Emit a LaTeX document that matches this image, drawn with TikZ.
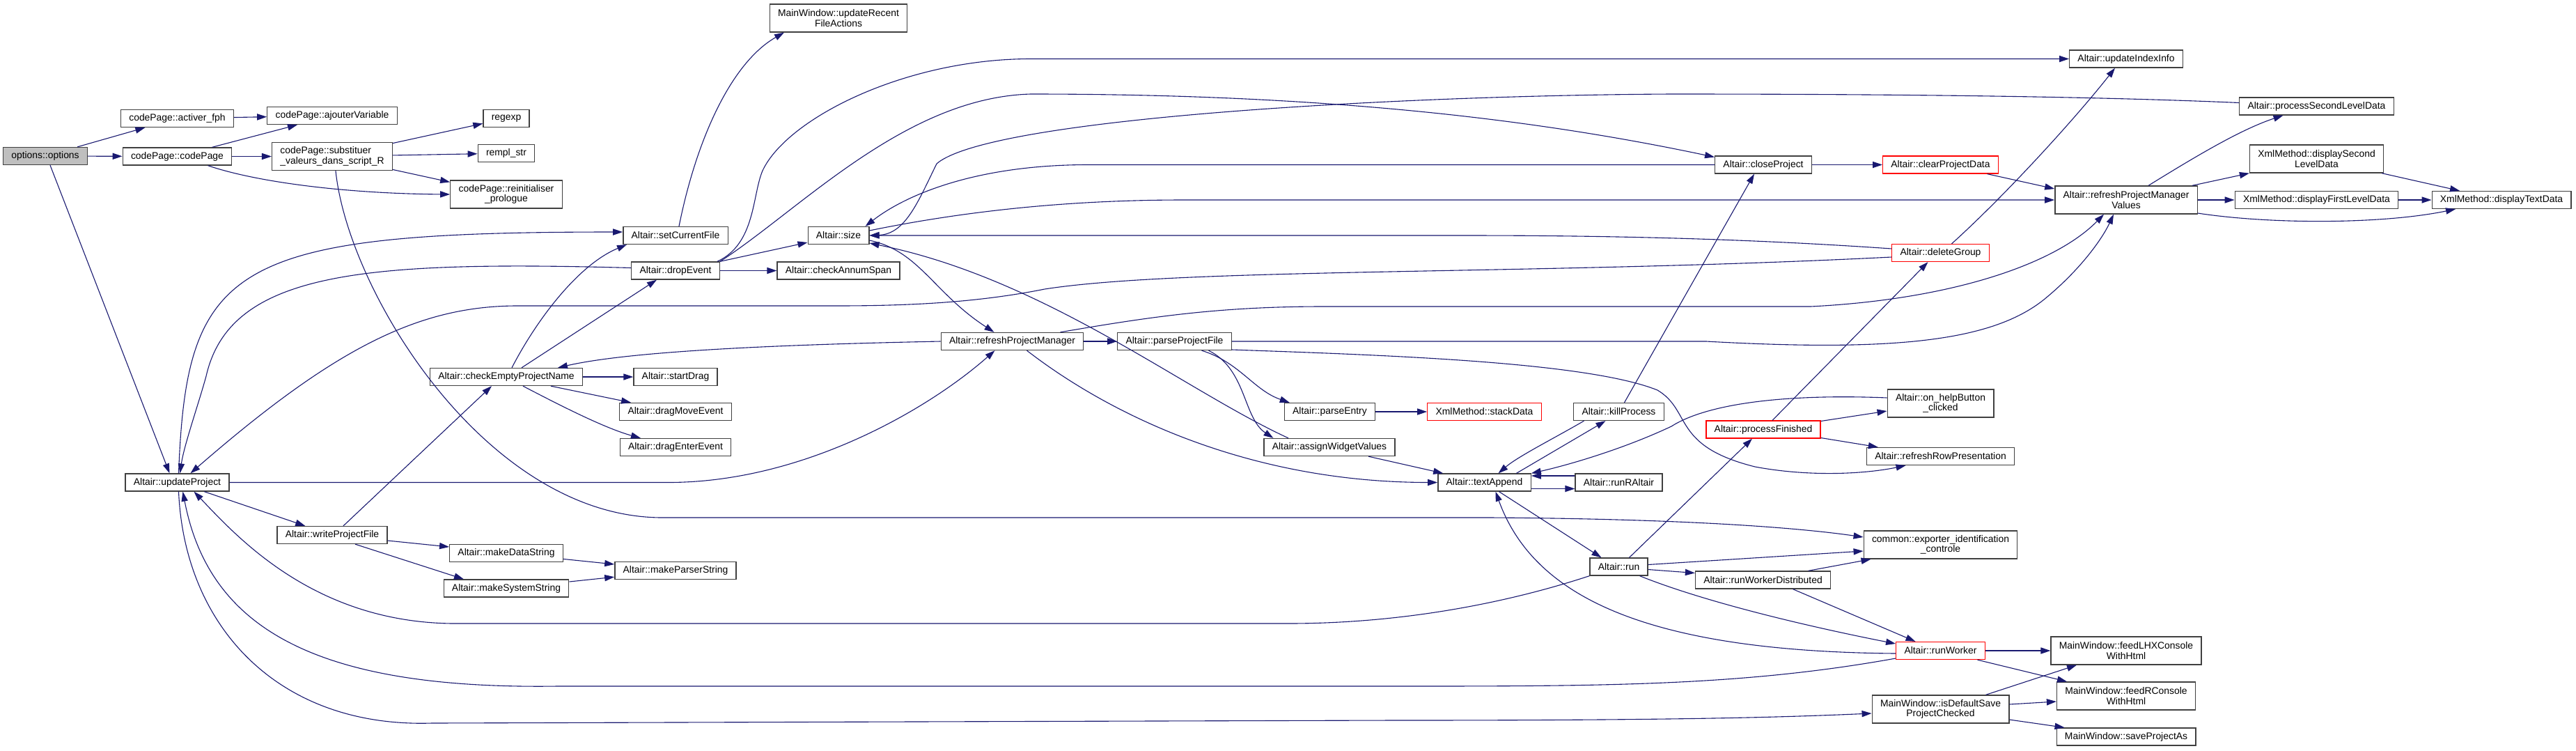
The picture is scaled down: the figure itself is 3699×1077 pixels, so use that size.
\documentclass[tikz,border=0pt]{standalone}
\usepackage{fontspec}
\setmainfont{Liberation Sans}
\usetikzlibrary{arrows.meta,calc}
\definecolor{edgeblue}{HTML}{191970}
\definecolor{ink}{HTML}{404040}
\definecolor{hot}{HTML}{FF0000}
\definecolor{root}{HTML}{BFBFBF}
\newcommand{\fnfont}{\fontsize{6.95}{7.3}\selectfont}
\tikzset{
  >={Triangle[length=7pt,width=4.6pt]},
  fn/.style={draw=ink,fill=white,line width=0.65pt,font=\fnfont,inner xsep=5.9pt,inner ysep=1pt,minimum height=12.5pt,align=center},
  fntwo/.style={fn,minimum height=20pt},
  rootfn/.style={fn,fill=root},
  hotfn/.style={fn,draw=hot},
  call/.style={->,draw=edgeblue,line width=0.55pt},
}

\begin{document}
\begin{tikzpicture}[x=0.5pt,y=-0.5pt]
\useasboundingbox (0,0) rectangle (3699,1077);

% functions, one column per rank
\node[rootfn] (opt) at (65,224) {options::options};
\node[fn] (activ) at (254.5,170) {codePage::activer\_fph};
\node[fn] (cpage) at (254.5,224.5) {codePage::codePage};
\node[fn] (updproj) at (254.5,692.5) {Altair::updateProject};
\node[fn] (ajout) at (477,166) {codePage::ajouterVariable};
\node[fntwo,align=left] (subst) at (477,224.5) {codePage::substituer\\\_valeurs\_dans\_script\_R};
\node[fn] (writepf) at (477,768) {Altair::writeProjectFile};
\node[fn] (regexp) at (727,170) {regexp};
\node[fn] (rempl) at (727,220) {rempl\_str};
\node[fntwo] (reinit) at (727,279) {codePage::reinitialiser\\\_prologue};
\node[fn] (cepn) at (727,541) {Altair::checkEmptyProjectName};
\node[fn] (mkdata) at (727,794) {Altair::makeDataString};
\node[fn] (mksys) at (727,844.5) {Altair::makeSystemString};
\node[fn] (setcf) at (970,338) {Altair::setCurrentFile};
\node[fn] (drop) at (970,388.5) {Altair::dropEvent};
\node[fn] (drag) at (970,541) {Altair::startDrag};
\node[fn] (dmove) at (970,591) {Altair::dragMoveEvent};
\node[fn] (denter) at (970,642) {Altair::dragEnterEvent};
\node[fn] (mkparse) at (970,819) {Altair::makeParserString};
\node[fntwo] (recent) at (1204,26) {MainWindow::updateRecent\\FileActions};
\node[fn] (size) at (1204,338) {Altair::size};
\node[fn] (annum) at (1204,388.5) {Altair::checkAnnumSpan};
\node[fn] (rpm) at (1453.5,490) {Altair::refreshProjectManager};
\node[fn] (ppf) at (1686.5,490) {Altair::parseProjectFile};
\node[fn] (pentry) at (1909.5,591) {Altair::parseEntry};
\node[fn] (awv) at (1909,642) {Altair::assignWidgetValues};
\node[hotfn] (stack) at (2131.5,591) {XmlMethod::stackData};
\node[fn] (textapp) at (2131.5,692.5) {Altair::textAppend};
\node[fn] (kill) at (2324.5,591) {Altair::killProcess};
\node[fn] (runr) at (2324.5,692.5) {Altair::runRAltair};
\node[fn] (run) at (2324.5,813.5) {Altair::run};
\node[fn] (close) at (2532,236.5) {Altair::closeProject};
\node[hotfn] (pfin) at (2532,616.5) {Altair::processFinished};
\node[fn] (rwd) at (2531.5,832.5) {Altair::runWorkerDistributed};
\node[hotfn] (clear) at (2786.5,236.5) {Altair::clearProjectData};
\node[hotfn] (delgrp) at (2786.5,363) {Altair::deleteGroup};
\node[fntwo] (help) at (2786.5,579) {Altair::on\_helpButton\\\_clicked};
\node[fn] (rrow) at (2786.5,655) {Altair::refreshRowPresentation};
\node[fntwo] (export) at (2786.5,782) {common::exporter\_identification\\\_controle};
\node[hotfn] (rworker) at (2786.5,934) {Altair::runWorker};
\node[fntwo] (isdef) at (2786.5,1018) {MainWindow::isDefaultSave\\ProjectChecked};
\node[fn] (index) at (3053,84.5) {Altair::updateIndexInfo};
\node[fntwo] (rpmv) at (3053,287) {Altair::refreshProjectManager\\Values};
\node[fntwo] (lhx) at (3053,934) {MainWindow::feedLHXConsole\\WithHtml};
\node[fntwo] (rcons) at (3053,999) {MainWindow::feedRConsole\\WithHtml};
\node[fn] (saveas) at (3053,1057.5) {MainWindow::saveProjectAs};
\node[fn] (pslt) at (3326.5,152.5) {Altair::processSecondLevelData};
\node[fntwo] (dsld) at (3326.5,228) {XmlMethod::displaySecond\\LevelData};
\node[fn] (dfld) at (3326.5,287) {XmlMethod::displayFirstLevelData};
\node[fn] (dtext) at (3592,287) {XmlMethod::displayTextData};

% codePage branch
\draw[call] (opt) -- (activ);
\draw[call] (opt) -- (cpage);
\draw[call] ($(opt.south)+(7,0)$) -- ($(updproj.north)+(-11,0)$);
\draw[call] (activ) -- (ajout);
\draw[call] (cpage) -- (ajout);
\draw[call] (cpage) -- (subst);
\draw[call] ($(cpage.south)+(44,0)$) .. controls (370,262) and (500,278) .. (reinit.west);
\draw[call] (subst) -- (regexp);
\draw[call] (subst) -- (rempl);
\draw[call] (subst) -- (reinit);
\draw[call] ($(subst.south)+(5,0)$) .. controls (500,420) and (700,743) .. (951,743) -- (2140,743) .. controls (2450,745) and (2600,760) .. ($(export.west)+(0,-11)$);

% updateProject
\draw[call] (updproj) -- (writepf);
\draw[call] ($(writepf.north)+(16,0)$) -- ($(cepn.south)+(-21,0)$);
\draw[call] ($(writepf.east)+(0,8)$) -- ($(mkdata.west)+(0,-9)$);
\draw[call] ($(writepf.south)+(33,0)$) -- ($(mksys.north)+(-61,0)$);
\draw[call] (mkdata) -- (mkparse);
\draw[call] (mksys) -- (mkparse);
\draw[call] ($(updproj.north)+(2,0)$) .. controls (268,380) and (330,333) .. ($(setcf.west)+(0,-5)$);
\draw[call] ($(drop.west)+(0,-4)$) .. controls (520,374) and (330,390) .. (296,540) .. controls (285,580) and (264,640) .. ($(updproj.north)+(4,0)$);
\draw[call] ($(delgrp.west)+(0,6)$) .. controls (2200,395) and (1700,384) .. (1500,415) .. controls (1400,435) and (1300,439) .. (1200,439) -- (740,439) .. controls (600,440) and (480,500) .. ($(updproj.north)+(19,0)$);
\draw[call] (updproj.east) -- (960,692.5) .. controls (1150,692.5) and (1330,590) .. ($(rpm.south)+(-25,0)$);
\draw[call] ($(updproj.south)+(2,0)$) .. controls (265,900) and (400,1045) .. (620,1038) -- (2000,1034) .. controls (2400,1034) and (2550,1030) .. ($(isdef.west)+(0,6)$);
\draw[call] ($(rworker.west)+(0,11)$) .. controls (2500,985) and (2300,985) .. (2000,985) -- (800,985) .. controls (450,990) and (300,900) .. ($(updproj.south)+(8,0)$);
\draw[call] (run.south west) .. controls (2150,870) and (2000,895) .. (1850,895) -- (650,895) .. controls (450,893) and (340,770) .. ($(updproj.south)+(24,0)$);

% checkEmptyProjectName
\draw[call] ($(cepn.north)+(8,0)$) .. controls (770,460) and (830,380) .. ($(setcf.south)+(-70,0)$);
\draw[call] ($(cepn.north)+(22,0)$) -- ($(drop.south)+(-27,0)$);
\draw[call] (cepn) -- (drag);
\draw[call] (cepn) -- (dmove);
\draw[call] ($(cepn.south)+(24,0)$) .. controls (810,585) and (870,615) .. ($(denter.north)+(-50,0)$);
\draw[call] (rpm.west) .. controls (1100,495) and (900,505) .. ($(cepn.north)+(74,0)$);

% setCurrentFile and dropEvent
\draw[call] ($(setcf.north)+(5,0)$) .. controls (1000,200) and (1050,90) .. ($(recent.south)+(-78,0)$);
\draw[call] (drop.north east) -- ($(size.west)+(0,10)$);
\draw[call] (drop) -- (annum);
\draw[call] ($(drop.north)+(60,0)$) .. controls (1085,350) and (1080,280) .. (1095,245) .. controls (1130,170) and (1300,84.5) .. (1480,84.5) -- (index.west);
\draw[call] ($(drop.north)+(64,0)$) .. controls (1150,300) and (1300,140) .. (1480,135) .. controls (1900,135) and (2200,170) .. ($(close.west)+(0,-11)$);

% size
\draw[call] (close.west) -- (1560,236.5) .. controls (1400,237) and (1300,280) .. ($(size.north east)+(-6,0)$);
\draw[call] ($(pslt.west)+(0,-5)$) .. controls (3000,138) and (2700,135) .. (2400,135) .. controls (2000,137) and (1420,170) .. (1345,235) .. controls (1318,290) and (1300,336) .. (size.east);
\draw[call] ($(size.east)+(0,-7)$) .. controls (1400,300) and (1550,287) .. (1700,287) -- (rpmv.west);
\draw[call] ($(delgrp.west)+(0,-6)$) .. controls (2500,342) and (2300,338) .. (2100,338) -- (size.east);
\draw[call] ($(size.east)+(0,7)$) .. controls (1320,360) and (1340,420) .. ($(rpm.north)+(-26,0)$);
\draw[call] ($(awv.north)+(-59,0)$) .. controls (1700,560) and (1500,400) .. ($(size.east)+(0,11)$);

% refreshProjectManager
\draw[call] (rpm) -- (ppf);
\draw[call] ($(rpm.south)+(21,0)$) .. controls (1600,600) and (1800,692.5) .. (textapp.west);
\draw[call] ($(rpm.north)+(69,0)$) .. controls (1650,455) and (1750,440) .. (1900,440) -- (2600,440) .. controls (2800,430) and (2950,380) .. ($(rpmv.south)+(-32,0)$);

% parseProjectFile
\draw[call] ($(ppf.south)+(39,0)$) .. controls (1780,520) and (1800,560) .. ($(pentry.north west)+(8,0)$);
\draw[call] ($(ppf.south)+(49,0)$) .. controls (1790,530) and (1785,600) .. ($(awv.north west)+(14,0)$);
\draw[call] (ppf.east) -- (2450,490) .. controls (2720,505) and (2860,490) .. (2935,430) .. controls (2990,385) and (3020,340) .. ($(rpmv.south)+(-18,0)$);
\draw[call] ($(ppf.east)+(0,12)$) .. controls (2000,510) and (2280,520) .. (2380,560) .. controls (2430,590) and (2400,640) .. (2520,670) .. controls (2600,685) and (2680,680) .. ($(rrow.south)+(-50,0)$);
\draw[call] (pentry) -- (stack);
\draw[call] ($(awv.south)+(56,0)$) -- ($(textapp.north west)+(8,0)$);

% textAppend
\draw[call] ($(textapp.north)+(46,0)$) -- ($(kill.south)+(-19,0)$);
\draw[call] ($(kill.south)+(-50,0)$) .. controls (2230,630) and (2180,655) .. ($(textapp.north)+(20,0)$);
\draw[call] ($(runr.west)+(0,-9.5)$) -- ($(textapp.east)+(0,-9.5)$);
\draw[call] ($(textapp.east)+(0,9)$) -- ($(runr.west)+(0,9)$);
\draw[call] ($(textapp.south)+(21,0)$) -- ($(run.north)+(-25,0)$);
\draw[call] ($(help.west)+(0,-8)$) .. controls (2560,565) and (2450,580) .. (2400,612) .. controls (2330,645) and (2250,668) .. (textapp.north east);
\draw[call] ($(rworker.west)+(0,4)$) .. controls (2350,935) and (2200,850) .. ($(textapp.south)+(16,0)$);

% run
\draw[call] ($(run.north)+(15,0)$) -- ($(pfin.south)+(-16,0)$);
\draw[call] ($(run.east)+(0,-3)$) -- ($(export.west)+(0,9)$);
\draw[call] ($(run.east)+(0,4)$) -- ($(rwd.west)+(0,-10)$);
\draw[call] ($(run.south)+(30,0)$) .. controls (2450,865) and (2600,900) .. ($(rworker.west)+(0,-10)$);
\draw[call] ($(rwd.north)+(65,0)$) -- ($(export.south)+(-100,0)$);
\draw[call] ($(rwd.south)+(43,0)$) -- ($(rworker.north)+(-36,0)$);

% runWorker and isDefaultSaveProjectChecked
\draw[call] (rworker) -- (lhx);
\draw[call] ($(rworker.south)+(53,0)$) -- ($(rcons.north)+(-85,0)$);
\draw[call] ($(isdef.north)+(65,0)$) -- ($(lhx.south)+(-71,0)$);
\draw[call] ($(isdef.east)+(0,-7)$) -- ($(rcons.west)+(0,8)$);
\draw[call] ($(isdef.east)+(0,15)$) -- ($(saveas.north west)+(12,0)$);

% processFinished
\draw[call] ($(pfin.east)+(0,-12)$) -- ($(help.west)+(0,11)$);
\draw[call] ($(pfin.east)+(0,12)$) -- ($(rrow.north west)+(17,0)$);
\draw[call] ($(pfin.north)+(13,0)$) -- ($(delgrp.south)+(-18,0)$);

% closeProject and deleteGroup
\draw[call] ($(kill.north)+(8,0)$) -- ($(close.south)+(-13,0)$);
\draw[call] (close) -- (clear);
\draw[call] ($(clear.south)+(67,0)$) -- ($(rpmv.west)+(0,-16)$);
\draw[call] ($(delgrp.north)+(16,0)$) .. controls (2880,280) and (2980,170) .. ($(index.south)+(-16,0)$);

% refreshProjectManagerValues
\draw[call] ($(rpmv.north)+(32,0)$) .. controls (3160,220) and (3220,185) .. ($(pslt.south)+(-48,0)$);
\draw[call] ($(rpmv.north east)+(-8,0)$) -- (dsld.south west);
\draw[call] (rpmv) -- (dfld);
\draw[call] ($(rpmv.east)+(0,19)$) .. controls (3260,322) and (3420,322) .. ($(dtext.south)+(-66,0)$);
\draw[call] ($(dsld.south east)+(-3,0)$) -- ($(dtext.north)+(-60,0)$);
\draw[call] (dfld) -- (dtext);

\end{tikzpicture}
\end{document}
